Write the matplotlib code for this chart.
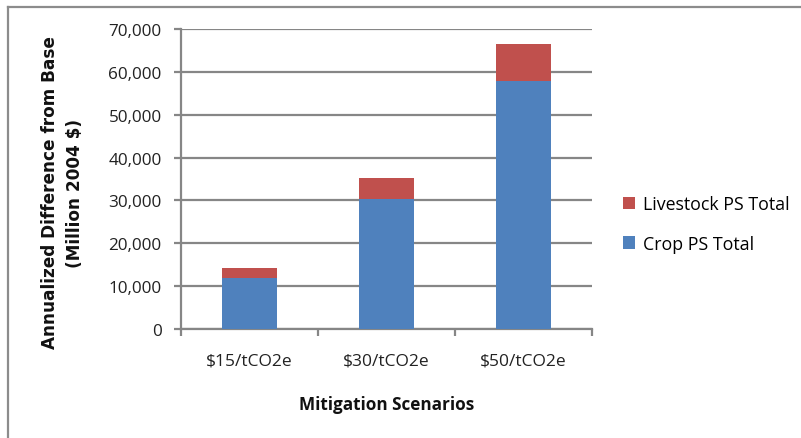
import matplotlib
matplotlib.use("Agg")
import matplotlib.pyplot as plt
from matplotlib.ticker import FuncFormatter, FixedLocator

scenarios = ["$15/tCO2e", "$30/tCO2e", "$50/tCO2e"]
crop_ps = [12000, 30400, 57900]
livestock_ps = [2300, 4800, 8700]

yticks = [0, 10000, 20000, 30000, 40000, 50000, 60000, 70000]

BLUE = "#4F81BD"
RED = "#C0504D"
GRID = "#868686"

plt.rcParams["font.family"] = ["Open Sans", "DejaVu Sans"]

fig = plt.figure(figsize=(8.01, 4.39), dpi=100)
W, H = 801, 439

# outer chart frame (top and left edges visible)
fig.add_artist(plt.Line2D([8 / W, 8 / W], [0, 1 - 8 / H], transform=fig.transFigure,
                          color="#8c8c8c", lw=1.6))
fig.add_artist(plt.Line2D([8 / W, 1], [1 - 8 / H, 1 - 8 / H], transform=fig.transFigure,
                          color="#8c8c8c", lw=1.6))

ax = fig.add_axes([181 / W, 1 - 330 / H, (592 - 181) / W, 300 / H])

x = list(range(len(scenarios)))
ax.bar(x, crop_ps, width=0.4, color=BLUE, label="Crop PS Total", zorder=3)
ax.bar(x, livestock_ps, width=0.4, bottom=crop_ps, color=RED,
       label="Livestock PS Total", zorder=3)

ax.set_xlim(-0.5, len(scenarios) - 0.5)
ax.set_ylim(0, 70000)
ax.set_yticks(yticks)
ax.yaxis.set_major_formatter(FuncFormatter(lambda v, p: f"{int(v):,}"))
ax.grid(axis="y", color=GRID, lw=1.6, zorder=0)
ax.set_axisbelow(True)

ax.set_xticks(x)
ax.set_xticklabels(scenarios)
ax.xaxis.set_minor_locator(FixedLocator([-0.5, 0.5, 1.5, 2.5]))
ax.tick_params(axis="x", which="major", length=0, pad=17, labelsize=12.5, colors="#222222")
ax.tick_params(axis="x", which="minor", length=5, width=1.6, color=GRID)
ax.tick_params(axis="y", length=5, width=1.6, color=GRID, labelsize=12.3, pad=9,
               labelcolor="#222222")

for side in ("top", "right"):
    ax.spines[side].set_visible(False)
for side in ("left", "bottom"):
    ax.spines[side].set_color(GRID)
    ax.spines[side].set_linewidth(1.6)

fig.text(63 / W, 1 - 193 / H, "Annualized Difference from Base\n(Million 2004 $)",
         rotation=90, ha="center", va="center", fontsize=12.2, fontweight="bold",
         family=["DejaVu Sans"], linespacing=1.5, color="#111111")
fig.text(387 / W, 1 - 405 / H, "Mitigation Scenarios", ha="center", va="center",
         fontsize=12.3, fontweight="bold", color="#111111")

handles, labels = ax.get_legend_handles_labels()
fig.legend(handles[::-1], labels[::-1], loc="center left",
           bbox_to_anchor=(607 / W, 1 - 225 / H), frameon=False, fontsize=12.8,
           handlelength=0.7, handleheight=0.7, handletextpad=0.4, labelspacing=1.2)

fig.savefig("out.png", dpi=100)
